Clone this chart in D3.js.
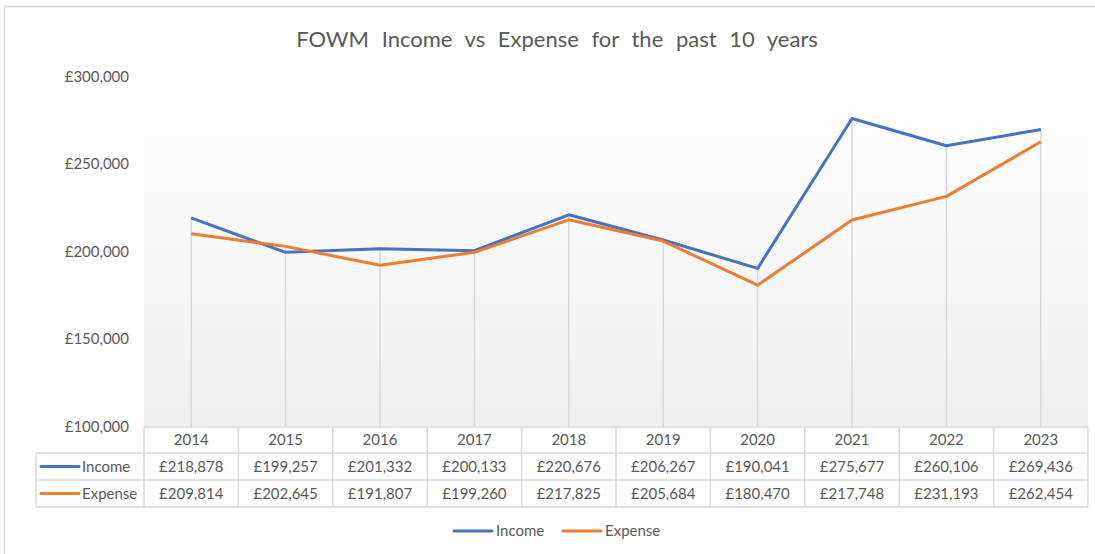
<!DOCTYPE html>
<html>
<head>
<meta charset="utf-8">
<script src="https://cdn.jsdelivr.net/npm/d3@7"></script>
<style>
  body { margin: 0; background: #fff; }
  svg { display: block; font-family: Lato, "Open Sans", sans-serif; }
</style>
</head>
<body>
<svg id="chart"></svg>
<script>
// the numbers
const years = ["2014", "2015", "2016", "2017", "2018", "2019", "2020", "2021", "2022", "2023"];
const income = [218878, 199257, 201332, 200133, 220676, 206267, 190041, 275677, 260106, 269436];
const expense = [209814, 202645, 191807, 199260, 217825, 205684, 180470, 217748, 231193, 262454];
const yTicks = [100000, 150000, 200000, 250000, 300000];
const seriesNames = ["Income", "Expense"];

const W = 1095, H = 554;
const plot = { left: 144, right: 1088, top: 76, bottom: 426 };
const colours = ["#4472c4", "#ed7d31"];
const grey = "#595959";
const lineGrey = "#d9d9d9";
const font = "Lato, 'Open Sans', sans-serif";

const svg = d3.select("#chart").attr("width", W).attr("height", H);

// outer chart border (only top and left fit in the window)
svg.append("rect")
  .attr("x", 4.5).attr("y", 6.5)
  .attr("width", W + 20).attr("height", H + 20)
  .attr("fill", "#fff").attr("stroke", lineGrey).attr("stroke-width", 1.5);

// plot area gradient, white to light grey
const grad = svg.append("defs").append("linearGradient")
  .attr("id", "bg").attr("x1", 0).attr("y1", 0).attr("x2", 0).attr("y2", 1);
grad.append("stop").attr("offset", "0%").attr("stop-color", "#ffffff");
grad.append("stop").attr("offset", "100%").attr("stop-color", "#efefef");

svg.append("rect")
  .attr("x", plot.left).attr("y", plot.top)
  .attr("width", plot.right - plot.left).attr("height", plot.bottom - plot.top)
  .attr("fill", "url(#bg)");

// scales
const x = d3.scaleBand().domain(years).range([plot.left, plot.right]);
const y = d3.scaleLinear().domain([100000, 300000]).range([plot.bottom, plot.top]);
const cx = d => x(d) + x.bandwidth() / 2;

// y axis labels
const money = d => "£" + d3.format(",")(d);
const yAxis = d3.axisLeft(y).tickValues(yTicks).tickFormat(money).tickSize(0).tickPadding(0);
svg.append("g")
  .attr("transform", "translate(129,0)")
  .call(yAxis)
  .attr("font-family", font)
  .call(g => g.select(".domain").remove())
  .call(g => g.selectAll("text").attr("fill", grey).attr("font-size", 15).attr("dy", "0.35em"));

// drop lines from the highest point down to the axis
svg.append("g").selectAll("line")
  .data(years)
  .enter()
  .append("line")
  .attr("x1", d => cx(d)).attr("x2", d => cx(d))
  .attr("y1", (d, i) => y(Math.max(income[i], expense[i])))
  .attr("y2", plot.bottom)
  .attr("stroke", lineGrey).attr("stroke-width", 1.5);

// the two lines
const line = d3.line().x((d, i) => cx(years[i])).y(d => y(d));
[income, expense].forEach((vals, k) => {
  svg.append("path")
    .datum(vals)
    .attr("d", line)
    .attr("fill", "none")
    .attr("stroke", colours[k])
    .attr("stroke-width", 3)
    .attr("stroke-linejoin", "round");
});

// title
svg.append("text")
  .attr("x", 557).attr("y", 47)
  .attr("text-anchor", "middle")
  .attr("fill", grey).attr("font-size", 22)
  .attr("word-spacing", 7)
  .text("FOWM Income vs Expense for the past 10 years");

// data table under the axis
const rowTop = [427, 453, 480];
const rowBottom = 507;
const tableLeft = 36;
const tbl = svg.append("g").attr("stroke", lineGrey).attr("stroke-width", 1.5);

// horizontal lines
tbl.append("line").attr("x1", plot.left).attr("x2", plot.right).attr("y1", rowTop[0]).attr("y2", rowTop[0]);
[rowTop[1], rowTop[2], rowBottom].forEach(yy => {
  tbl.append("line").attr("x1", tableLeft).attr("x2", plot.right).attr("y1", yy).attr("y2", yy);
});
// vertical lines
tbl.append("line").attr("x1", tableLeft).attr("x2", tableLeft).attr("y1", rowTop[1]).attr("y2", rowBottom);
years.forEach(d => {
  tbl.append("line").attr("x1", x(d)).attr("x2", x(d)).attr("y1", rowTop[0]).attr("y2", rowBottom);
});
tbl.append("line").attr("x1", plot.right).attr("x2", plot.right).attr("y1", rowTop[0]).attr("y2", rowBottom);

// year header
svg.append("g").selectAll("text")
  .data(years)
  .enter()
  .append("text")
  .attr("x", d => cx(d)).attr("y", (rowTop[0] + rowTop[1]) / 2 + 5)
  .attr("text-anchor", "middle").attr("fill", grey).attr("font-size", 15)
  .text(d => d);

// value rows
[income, expense].forEach((vals, k) => {
  const mid = (rowTop[k + 1] + (k === 0 ? rowTop[2] : rowBottom)) / 2;
  svg.append("g").selectAll("text")
    .data(vals)
    .enter()
    .append("text")
    .attr("x", (d, i) => cx(years[i])).attr("y", mid + 5)
    .attr("text-anchor", "middle").attr("fill", grey).attr("font-size", 15)
    .text(d => money(d));
  // legend key in the row
  svg.append("line")
    .attr("x1", 41).attr("x2", 79).attr("y1", mid).attr("y2", mid)
    .attr("stroke", colours[k]).attr("stroke-width", 3).attr("stroke-linecap", "round");
  svg.append("text")
    .attr("x", 82).attr("y", mid + 5)
    .attr("fill", grey).attr("font-size", 15)
    .text(seriesNames[k]);
});

// legend at the bottom
const legendX = [454, 563];
seriesNames.forEach((name, k) => {
  svg.append("line")
    .attr("x1", legendX[k]).attr("x2", legendX[k] + 38).attr("y1", 531).attr("y2", 531)
    .attr("stroke", colours[k]).attr("stroke-width", 3).attr("stroke-linecap", "round");
  svg.append("text")
    .attr("x", legendX[k] + 42).attr("y", 536)
    .attr("fill", grey).attr("font-size", 15)
    .text(name);
});
</script>
</body>
</html>
